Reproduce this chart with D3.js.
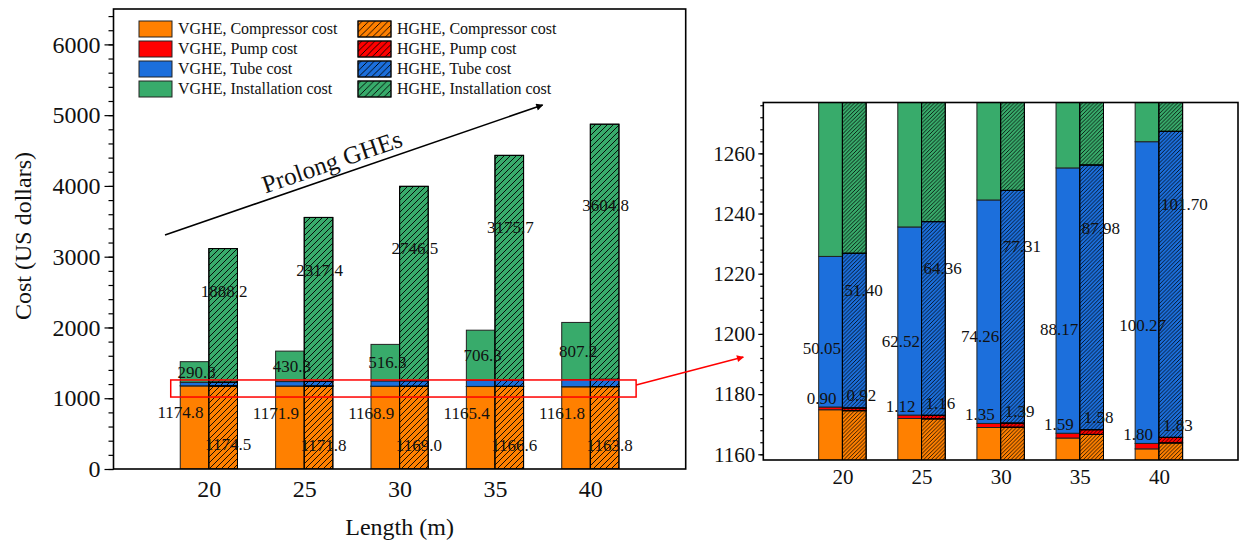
<!DOCTYPE html>
<html>
<head>
<meta charset="utf-8">
<script src="https://cdn.jsdelivr.net/npm/d3@7/dist/d3.min.js"></script>
<style>
  html, body { margin: 0; padding: 0; background: #fff; }
  svg, svg text { font-family: "Liberation Serif", "Times New Roman", Times, serif !important; }
</style>
</head>
<body>
<svg id="chart" width="1239" height="541"></svg>
<script>
// ---- data -------------------------------------------------------------
const lengths = [20, 25, 30, 35, 40];

const vgheCompressor = [1174.8, 1171.9, 1168.9, 1165.4, 1161.8];
const vghePump       = [0.90, 1.12, 1.35, 1.59, 1.80];
const vgheTube       = [50.05, 62.52, 74.26, 88.17, 100.27];
const vgheInstall    = [290.8, 430.3, 516.3, 706.3, 807.2];

const hgheCompressor = [1174.5, 1171.8, 1169.0, 1166.6, 1163.8];
const hghePump       = [0.92, 1.16, 1.39, 1.58, 1.83];
const hgheTube       = [51.40, 64.36, 77.31, 87.98, 101.70];
const hgheInstall    = [1888.2, 2317.4, 2746.5, 3175.7, 3604.8];

const costNames  = ["Compressor cost", "Pump cost", "Tube cost", "Installation cost"];
const mainTicks  = [0, 1000, 2000, 3000, 4000, 5000, 6000];
const zoomTicks  = [1160, 1180, 1200, 1220, 1240, 1260];

// ---- setup ------------------------------------------------------------
const serif = '"Liberation Serif", "Times New Roman", Times, serif';
const svg = d3.select("#chart");
const defs = svg.append("defs");
const keys = ["compressor", "pump", "tube", "install"];
const fills = { compressor: "#ff8000", pump: "#ff0000", tube: "#1c6fdc", install: "#38ab6b" };
const barW = 1.5; // bar width in x units

function tableOf(comp, pump, tube, inst) {
  return lengths.map((L, i) => ({ length: L, compressor: comp[i], pump: pump[i], tube: tube[i], install: inst[i] }));
}
const stacker = d3.stack().keys(keys);
const groups = [
  { name: "VGHE", side: -1, hatched: false, layers: stacker(tableOf(vgheCompressor, vghePump, vgheTube, vgheInstall)) },
  { name: "HGHE", side:  1, hatched: true,  layers: stacker(tableOf(hgheCompressor, hghePump, hgheTube, hgheInstall)) }
];

function makeHatch(id, p, sw) {
  const pat = defs.append("pattern").attr("id", id)
    .attr("patternUnits", "userSpaceOnUse").attr("width", p).attr("height", p);
  pat.append("path")
    .attr("d", `M-1,1 L1,-1 M0,${p} L${p},0 M${p - 1},${p + 1} L${p + 1},${p - 1}`)
    .attr("stroke", "#000").attr("stroke-width", sw).attr("fill", "none");
}
makeHatch("hatchMain", 6, 0.9);
makeHatch("hatchZoom", 3.8, 0.8);
makeHatch("hatchKey", 6.5, 0.9);

// arrowheads
function arrowMarker(id, color) {
  defs.append("marker").attr("id", id)
    .attr("viewBox", "0 0 10 10").attr("refX", 9).attr("refY", 5)
    .attr("markerWidth", 14).attr("markerHeight", 7)
    .attr("markerUnits", "userSpaceOnUse").attr("orient", "auto")
    .append("path").attr("d", "M0,0 L10,5 L0,10 Z").attr("fill", color);
}
arrowMarker("arrowBlack", "#000");
arrowMarker("arrowRed", "#ff0000");

// ---- one stacked bar panel ---------------------------------------------
function panel(cfg) {
  const x = d3.scaleLinear().domain([15, 45]).range([cfg.left, cfg.right]);
  const y = d3.scaleLinear().domain(cfg.yDomain).range([cfg.bottom, cfg.top]);
  const g = svg.append("g");

  defs.append("clipPath").attr("id", cfg.id + "Clip")
    .append("rect").attr("x", cfg.left).attr("y", cfg.top)
    .attr("width", cfg.right - cfg.left).attr("height", cfg.bottom - cfg.top);

  const bars = g.append("g").attr("clip-path", `url(#${cfg.id}Clip)`);
  const barLeft = (grp, L) => grp.side < 0 ? x(L - barW) : x(L);
  const barRight = (grp, L) => grp.side < 0 ? x(L) : x(L + barW);

  groups.forEach(grp => {
    grp.layers.forEach(layer => {
      const sel = bars.append("g");
      sel.selectAll("rect.fill").data(layer).join("rect")
        .attr("x", d => barLeft(grp, d.data.length))
        .attr("width", d => barRight(grp, d.data.length) - barLeft(grp, d.data.length))
        .attr("y", d => y(d[1]))
        .attr("height", d => y(d[0]) - y(d[1]))
        .attr("fill", fills[layer.key])
        .attr("stroke", grp.hatched ? "#000" : "#222")
        .attr("stroke-width", 1);
      if (grp.hatched) {
        sel.selectAll("rect.hatch").data(layer).join("rect")
          .attr("x", d => barLeft(grp, d.data.length))
          .attr("width", d => barRight(grp, d.data.length) - barLeft(grp, d.data.length))
          .attr("y", d => y(d[1]))
          .attr("height", d => y(d[0]) - y(d[1]))
          .attr("fill", `url(#${cfg.hatch})`)
          .attr("stroke", "#000")
          .attr("stroke-width", 1);
      }
    });
  });

  // value labels
  const labelLayer = g.append("g");
  cfg.labels.forEach(spec => {
    const grp = groups[spec.group];
    const layer = grp.layers.find(l => l.key === spec.key);
    labelLayer.selectAll(null).data(layer).join("text")
      .attr("x", d => {
        const l = barLeft(grp, d.data.length), r = barRight(grp, d.data.length);
        return spec.ref === "left" ? l + spec.dx : (l + r) / 2 + spec.dx;
      })
      .attr("y", d => spec.pos(d, y))
      .attr("dy", "0.33em")
      .attr("text-anchor", spec.ref === "left" ? "start" : "middle")
      .attr("font-size", cfg.labelSize)
      .style("font-family", serif)
      .attr("fill", "#111")
      .text(d => d.data[spec.key].toFixed(spec.digits));
  });

  // y axis: major and minor ticks
  const minor = d3.range(cfg.minor[0], cfg.minor[1] + 1e-9, cfg.minor[2]);
  const yMinor = g.append("g").attr("transform", `translate(${cfg.left},0)`)
    .call(d3.axisLeft(y).tickValues(minor).tickSize(cfg.minorLen).tickFormat("").tickSizeOuter(0));
  const yAxis = g.append("g").attr("transform", `translate(${cfg.left},0)`)
    .call(d3.axisLeft(y).tickValues(cfg.ticks).tickFormat(d3.format("d"))
      .tickSize(cfg.majorLen).tickPadding(cfg.yPad).tickSizeOuter(0));
  [yMinor, yAxis].forEach(a => {
    a.attr("font-family", null).attr("font-size", null);
    a.select(".domain").remove();
    a.selectAll("line").attr("stroke", "#000").attr("stroke-width", 1.2);
  });
  yAxis.selectAll("text").attr("font-size", cfg.tickSize).style("font-family", serif).attr("fill", "#111");

  // x axis labels
  const xAxis = g.append("g").attr("transform", `translate(0,${cfg.bottom})`)
    .call(d3.axisBottom(x).tickValues(lengths).tickFormat(d3.format("d"))
      .tickSize(0).tickPadding(cfg.xPad).tickSizeOuter(0));
  xAxis.attr("font-family", null).attr("font-size", null);
  xAxis.select(".domain").remove();
  xAxis.selectAll("text").attr("font-size", cfg.tickSize).style("font-family", serif).attr("fill", "#111");

  // frame
  g.append("rect").attr("x", cfg.left).attr("y", cfg.top)
    .attr("width", cfg.right - cfg.left).attr("height", cfg.bottom - cfg.top)
    .attr("fill", "none").attr("stroke", "#000").attr("stroke-width", 1.6);

  return { x, y, g };
}

// ---- main panel ----------------------------------------------------------
const main = panel({
  id: "main", left: 113.5, right: 685.7, top: 9, bottom: 469,
  yDomain: [0, 6500], ticks: mainTicks, minor: [0, 6400, 200],
  majorLen: 9, minorLen: 5, yPad: 4, xPad: 11, tickSize: 24, labelSize: 17,
  hatch: "hatchMain",
  labels: [
    { group: 0, key: "compressor", ref: "center", dx: -14, digits: 1, pos: (d, y) => y(d[1]) + 27 },
    { group: 1, key: "compressor", ref: "center", dx: 5,   digits: 1, pos: (d, y) => y(d[1]) + 59 },
    { group: 0, key: "install",    ref: "center", dx: 2,   digits: 1, pos: (d, y) => y(d[0] + 0.5 * (d[1] - d[0])) },
    { group: 1, key: "install",    ref: "center", dx: 1,   digits: 1, pos: (d, y) => y(d[0] + 0.68 * (d[1] - d[0])) }
  ]
});

// ---- zoomed panel ----------------------------------------------------------
const zoom = panel({
  id: "zoom", left: 763.3, right: 1238, top: 102.5, bottom: 460,
  yDomain: [1158.1, 1276.9], ticks: zoomTicks, minor: [1160, 1276, 4],
  majorLen: 5, minorLen: 3, yPad: 3, xPad: 9, tickSize: 21, labelSize: 17,
  hatch: "hatchZoom",
  labels: [
    { group: 0, key: "pump", ref: "center", dx: -9, digits: 2, pos: (d, y) => y(d[1]) - 9 },
    { group: 1, key: "pump", ref: "center", dx: 7,  digits: 2, pos: (d, y) => y(d[1]) - 12 },
    { group: 0, key: "tube", ref: "left",   dx: -16, digits: 2, pos: (d, y) => y(d[0] + 0.39 * (d[1] - d[0])) },
    { group: 1, key: "tube", ref: "left",   dx: 2,   digits: 2, pos: (d, y) => y(d[0] + 0.76 * (d[1] - d[0])) }
  ]
});

// axis titles
svg.append("text")
  .attr("transform", "translate(30.5,236) rotate(-90)")
  .attr("text-anchor", "middle").attr("font-size", 24).attr("fill", "#111")
  .style("font-family", serif)
  .text("Cost (US dollars)");
svg.append("text")
  .attr("x", (main.x.range()[0] + main.x.range()[1]) / 2).attr("y", 535)
  .attr("text-anchor", "middle").attr("font-size", 24).attr("fill", "#111")
  .style("font-family", serif)
  .text("Length (m)");

// ---- legend ------------------------------------------------------------------
const legend = svg.append("g");
groups.forEach((grp, gi) => {
  const sx = gi === 0 ? 139 : 358;
  keys.forEach((k, i) => {
    const cy = 29 + i * 20;
    legend.append("rect").attr("x", sx).attr("y", cy - 8).attr("width", 33).attr("height", 16)
      .attr("fill", fills[k]).attr("stroke", "#222").attr("stroke-width", 1);
    if (grp.hatched) {
      legend.append("rect").attr("x", sx).attr("y", cy - 8).attr("width", 33).attr("height", 16)
        .attr("fill", "url(#hatchKey)").attr("stroke", "#000").attr("stroke-width", 1);
    }
    legend.append("text").attr("x", sx + 39).attr("y", cy).attr("dy", "0.33em")
      .attr("font-size", 16).attr("fill", "#111")
      .style("font-family", serif)
      .text(`${grp.name}, ${costNames[i]}`);
  });
});

// ---- annotations ---------------------------------------------------------------
// trend arrow with caption
const a0 = [main.x(17.7), main.y(3306)], a1 = [main.x(37.5), main.y(5143)];
svg.append("line")
  .attr("x1", a0[0]).attr("y1", a0[1]).attr("x2", a1[0]).attr("y2", a1[1])
  .attr("stroke", "#000").attr("stroke-width", 1.6).attr("marker-end", "url(#arrowBlack)");
const ang = Math.atan2(a1[1] - a0[1], a1[0] - a0[0]) * 180 / Math.PI;
svg.append("text")
  .attr("transform", `translate(${main.x(26.6)},${main.y(4230)}) rotate(${ang})`)
  .attr("text-anchor", "middle").attr("font-size", 25).attr("fill", "#111")
  .style("font-family", serif)
  .text("Prolong GHEs");

// highlight box around the zoomed range and pointer to the detail panel
const bx0 = main.x(18.0), bx1 = main.x(42.4), by0 = main.y(1258), by1 = main.y(1017);
svg.append("rect").attr("x", bx0).attr("y", by0).attr("width", bx1 - bx0).attr("height", by1 - by0)
  .attr("fill", "none").attr("stroke", "#ff0000").attr("stroke-width", 1.5);
svg.append("line")
  .attr("x1", bx1).attr("y1", by0 + 5)
  .attr("x2", zoom.x(15) - 20).attr("y2", zoom.y(1192.3))
  .attr("stroke", "#ff0000").attr("stroke-width", 1.5).attr("marker-end", "url(#arrowRed)");
</script>
</body>
</html>
